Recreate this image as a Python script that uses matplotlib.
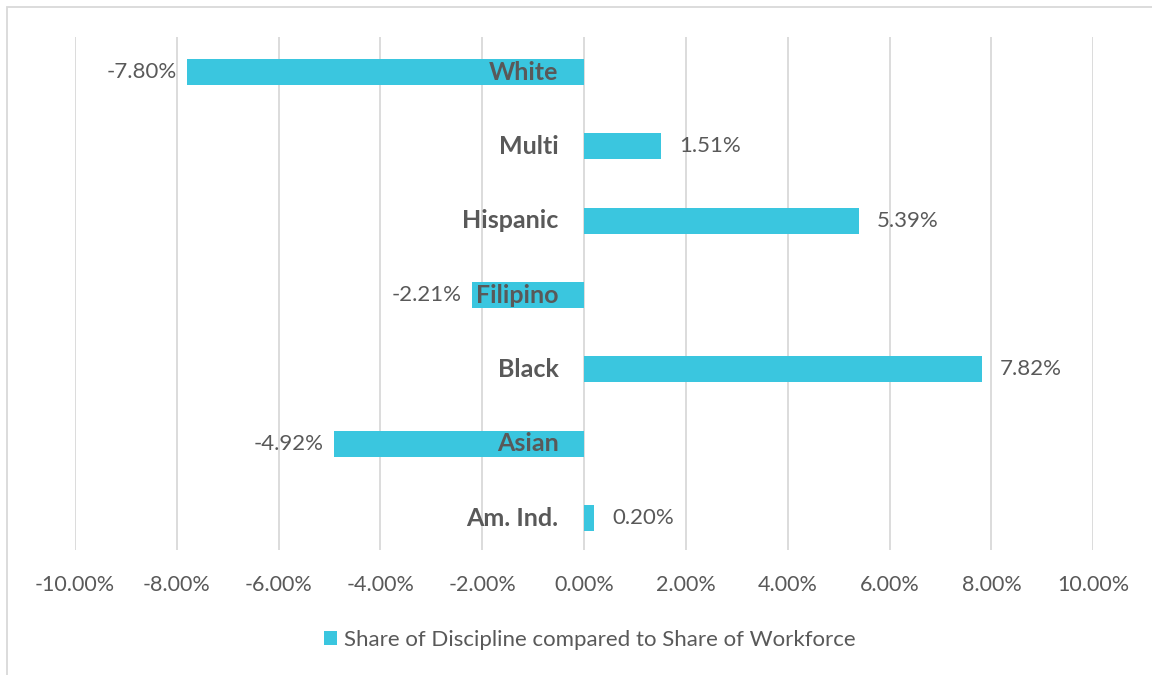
import matplotlib.pyplot as plt
from matplotlib.patches import Rectangle
from matplotlib.ticker import FuncFormatter

# Data
groups = ["Am. Ind.", "Asian", "Black", "Filipino", "Hispanic", "Multi", "White"]
diff_pct = [0.20, -4.92, 7.82, -2.21, 5.39, 1.51, -7.80]
series_name = "Share of Discipline compared to Share of Workforce"
xticks = [-10, -8, -6, -4, -2, 0, 2, 4, 6, 8, 10]

bar_color = "#3AC6DF"
text_color = "#595959"
grid_color = "#D9D9D9"

plt.rcParams['font.family'] = ['Lato', 'DejaVu Sans']

fig = plt.figure(figsize=(11.52, 6.75), dpi=100)
ax = fig.add_axes([0.065, 0.185, 0.884, 0.76])

y = range(len(groups))
bars = ax.barh(y, diff_pct, height=0.35, color=bar_color, label=series_name, zorder=2)

ax.set_xlim(-10, 10)
ax.set_ylim(-0.43, len(groups) - 0.53)
ax.set_xticks(xticks)
ax.xaxis.set_major_formatter(FuncFormatter(lambda v, p: f"{v:.2f}%"))
ax.tick_params(axis='x', length=0, labelsize=15.5, labelcolor=text_color, pad=18)
ax.set_yticks([])
ax.grid(axis='x', color=grid_color, linewidth=1.3, zorder=0)
for s in ax.spines.values():
    s.set_visible(False)

# category labels next to the zero line
for i, g in enumerate(groups):
    ax.text(-0.5, i, g, ha='right', va='center', fontsize=18, fontweight='bold',
            color=text_color, zorder=3)

# value labels
for i, v in enumerate(diff_pct):
    if v >= 0:
        ax.text(v + 0.35, i, f"{v:.2f}%", ha='left', va='center', fontsize=16,
                color=text_color, zorder=3)
    else:
        ax.text(v - 0.2, i, f"{v:.2f}%", ha='right', va='center', fontsize=16,
                color=text_color, zorder=3)

fig.legend(handles=[bars], labels=[series_name], loc='center', bbox_to_anchor=(0.512, 0.052),
           frameon=False, fontsize=16, labelcolor=text_color, handlelength=0.6,
           handleheight=0.6, handletextpad=0.3)

# chart area border (top and left visible)
fig.patches.append(Rectangle((0.006, -0.05), 1.2, 1.04, transform=fig.transFigure,
                             fill=False, edgecolor=grid_color, linewidth=1.3))

fig.savefig("out.png", dpi=100)
